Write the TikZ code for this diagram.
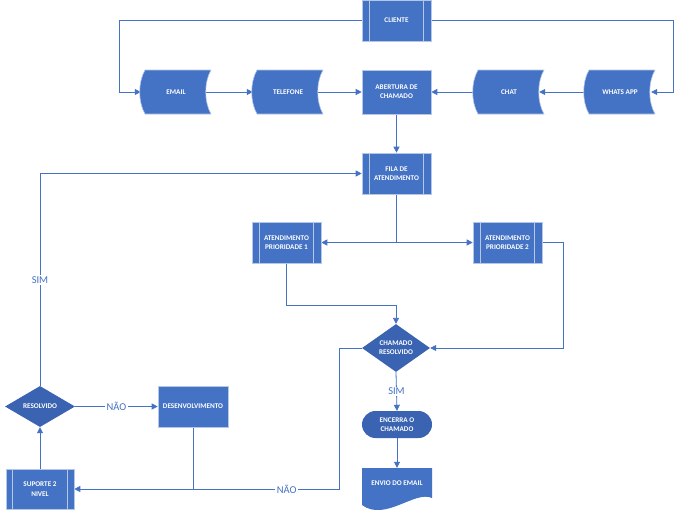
\documentclass[tikz,border=0pt]{standalone}
\usepackage{fontspec}
\setmainfont{Carlito}[BoldFont={Carlito Bold}]
\usetikzlibrary{shapes.geometric,arrows.meta}
\pgfdeclarelayer{bg}
\pgfsetlayers{bg,main}
\definecolor{cfill}{HTML}{4472C4}
\definecolor{cdark}{HTML}{3A64B2}
\definecolor{cedge}{HTML}{B4C7E7}
\definecolor{cline}{HTML}{4472C4}
\newcommand\sdata[1]{\fill[cfill,draw=cedge,line width=0.6pt,shift={#1}] (-31,-22) -- (35,-22) .. controls (28,-10) and (28,10) .. (35,22) -- (-31,22) .. controls (-38,10) and (-38,-10) .. (-31,-22) -- cycle;}
\begin{document}
\begin{tikzpicture}[x=1pt,y=-1pt,
  txt/.style={text=white,font=\bfseries\fontsize{7.2}{9.3}\selectfont,align=center},
  procbox/.style={txt,fill=cfill,draw=cedge,line width=0.6pt,minimum width=69pt,minimum height=41pt,inner sep=0pt},
  ghost/.style={txt,minimum width=70pt,minimum height=44pt,inner sep=0pt},
  dia/.style={diamond,txt,fill=cdark,inner sep=0pt,minimum width=70pt,minimum height=42pt},
  conn/.style={cline,line width=0.8pt},
  arr/.style={conn,-{Triangle[length=6pt,width=6pt]}},
  lbl/.style={fill=white,text=cline,font=\fontsize{10.5}{12}\selectfont,inner sep=1.5pt}
]
\begin{pgfonlayer}{bg}
\fill[white] (0,0) rectangle (679,517);
\end{pgfonlayer}
\useasboundingbox (0,0) rectangle (679,517);

% top
\node[procbox] (cliente) at (396.5,20.5) {CLIENTE};
\draw[cedge,line width=0.6pt] ([xshift=8pt]cliente.north west) -- ([xshift=8pt]cliente.south west)
  ([xshift=-8pt]cliente.north east) -- ([xshift=-8pt]cliente.south east);

\sdata{(176,92)}
\node[ghost] (email) at (176,92) {EMAIL};
\sdata{(288,92)}
\node[ghost] (tele) at (288,92) {TELEFONE};
\node[procbox,minimum height=44pt] (abert) at (396.5,92) {ABERTURA DE\\CHAMADO};
\sdata{(509,92)}
\node[ghost] (chat) at (509,92) {CHAT};
\sdata{(620,92)}
\node[ghost] (whats) at (620,92) {WHATS APP};

\node[procbox] (fila) at (396.5,173.5) {FILA DE\\ATENDIMENTO};
\draw[cedge,line width=0.6pt] ([xshift=8pt]fila.north west) -- ([xshift=8pt]fila.south west)
  ([xshift=-8pt]fila.north east) -- ([xshift=-8pt]fila.south east);

\node[procbox] (p1) at (286.5,242.5) {ATENDIMENTO\\PRIORIDADE 1};
\draw[cedge,line width=0.6pt] ([xshift=8pt]p1.north west) -- ([xshift=8pt]p1.south west)
  ([xshift=-8pt]p1.north east) -- ([xshift=-8pt]p1.south east);
\node[procbox] (p2) at (507.5,242.5) {ATENDIMENTO\\PRIORIDADE 2};
\draw[cedge,line width=0.6pt] ([xshift=8pt]p2.north west) -- ([xshift=8pt]p2.south west)
  ([xshift=-8pt]p2.north east) -- ([xshift=-8pt]p2.south east);

\node[dia,minimum width=68pt] (cham) at (396,348) {CHAMADO\\RESOLVIDO};
\node[txt,fill=cdark,rounded corners=13.5pt,minimum width=70pt,minimum height=27pt,inner sep=0pt] (enc) at (397,424.5) {ENCERRA O\\CHAMADO};

\fill[cfill] (362,468) -- (432,468) -- (432,498) .. controls (415,490) and (385,522) .. (362,505) -- cycle;
\node[txt,minimum width=70pt,minimum height=30pt,inner sep=0pt] (envio) at (397,483) {ENVIO DO EMAIL};

\node[dia,minimum height=41pt] (res) at (40,406.5) {RESOLVIDO};
\node[procbox,minimum width=70pt] (desenv) at (193,406.5) {DESENVOLVIMENTO};
\node[procbox,minimum width=68pt,minimum height=40pt] (sup) at (40,489) {SUPORTE 2\\NIVEL};
\draw[cedge,line width=0.6pt] ([xshift=7pt]sup.north west) -- ([xshift=7pt]sup.south west)
  ([xshift=-7pt]sup.north east) -- ([xshift=-7pt]sup.south east);

\begin{pgfonlayer}{bg}
\draw[arr] (cliente.west) -| ([xshift=-21pt]email.west) -- (email.west);
\draw[arr] (cliente.east) -| ([xshift=18pt]whats.east) -- ([xshift=-4pt]whats.east);
\draw[arr] ([xshift=-6pt]email.east) -- (tele.west);
\draw[arr] ([xshift=-6pt]tele.east) -- (abert.west);
\draw[arr] (chat.west) -- (abert.east);
\draw[arr] (whats.west) -- ([xshift=-5pt]chat.east);
\draw[arr] (abert.south) -- (fila.north);
\draw[arr] (fila.south) -- (fila.south |- p1.east) -- (p1.east);
\draw[arr] (fila.south |- p2.west) -- (p2.west);
\draw[arr] (p1.south) -- ++(0,42) -| (cham.north);
\draw[arr] (p2.east) -- ++(21,0) |- (cham.east);
\draw[arr] (cham.south) -- node[lbl]{SIM} (enc.north);
\draw[arr] (enc.south) -- (envio.north);
\draw[arr] (cham.west) -- ++(-22,0) |- node[lbl,pos=0.6]{NÃO} (sup.east);
\draw[conn] (desenv.south) -- (desenv.south |- sup.east);
\draw[arr] (sup.north) -- (res.south);
\draw[arr] (res.east) -- node[lbl]{NÃO} (desenv.west);
\draw[arr] (res.north) |- node[lbl,pos=0.25]{SIM} (fila.west);
\end{pgfonlayer}
\end{tikzpicture}
\end{document}
